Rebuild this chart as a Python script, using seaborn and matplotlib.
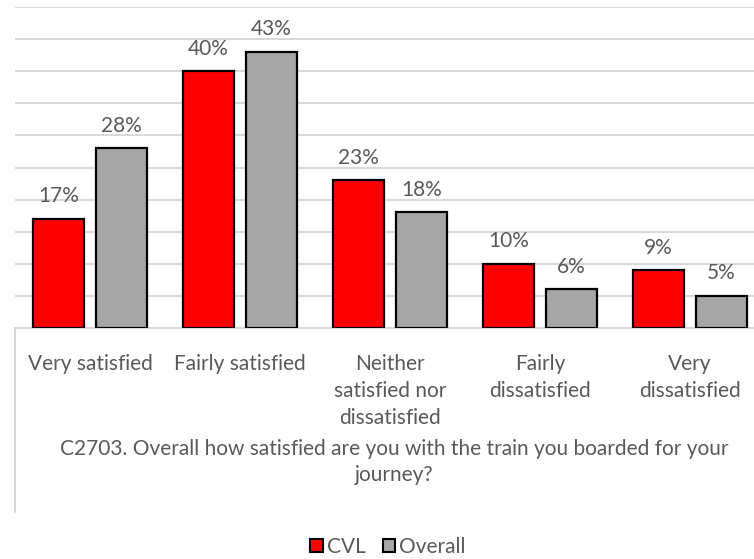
import matplotlib
matplotlib.use("Agg")
import matplotlib.pyplot as plt
import seaborn as sns
import pandas as pd
from matplotlib.lines import Line2D
from matplotlib.patches import Patch

categories = ["Very satisfied", "Fairly satisfied", "Neither\nsatisfied nor\ndissatisfied",
              "Fairly\ndissatisfied", "Very\ndissatisfied"]
series = ["CVL", "Overall"]
cvl = [17, 40, 23, 10, 9]
overall = [28, 43, 18, 6, 5]
y_ticks = [0, 5, 10, 15, 20, 25, 30, 35, 40, 45, 50]
question = "C2703. Overall how satisfied are you with the train you boarded for your\njourney?"
colors = {"CVL": "#FF0000", "Overall": "#A6A6A6"}
text_color = "#595959"

sns.set_theme(style="white")
plt.rcParams['font.family'] = ['Lato', 'DejaVu Sans']

W, H = 754, 559
fig = plt.figure(figsize=(W / 100, H / 100), dpi=100)
ax = fig.add_axes([15 / W, 1 - 328 / H, 750 / W, 321 / H])

df = pd.DataFrame({
    "category": categories * 2,
    "series": [series[0]] * len(cvl) + [series[1]] * len(overall),
    "value": cvl + overall,
})
sns.barplot(data=df, x="category", y="value", hue="series", hue_order=series,
            palette=colors, edgecolor="black", linewidth=1.6, width=0.84, gap=0.2,
            saturation=1, ax=ax, legend=False, errorbar=None, zorder=3)

for cont, vals in zip(ax.containers, [cvl, overall]):
    ax.bar_label(cont, labels=[f"{v}%" for v in vals], padding=9, fontsize=15, color=text_color)

ax.set_xlim(-0.5, 4.5)
ax.set_ylim(0, 50)
ax.set_yticks(y_ticks)
ax.set_yticklabels([])
ax.yaxis.grid(True, color="#D9D9D9", linewidth=1.5, zorder=0)
ax.set_axisbelow(True)
for s in ["top", "left", "right"]:
    ax.spines[s].set_visible(False)
ax.spines["bottom"].set_color("#D9D9D9")
ax.spines["bottom"].set_linewidth(1.5)
ax.tick_params(axis="both", length=0)
ax.tick_params(axis="x", pad=19, labelsize=15, labelcolor=text_color)
for lab in ax.get_xticklabels():
    lab.set_linespacing(1.42)
ax.set_xlabel("")
ax.set_ylabel("")

# category-axis frame line
fig.add_artist(Line2D([15 / W, 15 / W], [1 - 329 / H, 1 - 512 / H], color="#D9D9D9", linewidth=1.5))

fig.text(394 / W, 1 - 462 / H, question, ha="center", va="center", fontsize=15,
         color=text_color, linespacing=1.4)

handles = [Patch(facecolor=colors[s], edgecolor="black", linewidth=1.5, label=s) for s in series]
fig.legend(handles=handles, loc="center", bbox_to_anchor=(388 / W, 1 - 547 / H), ncol=2,
           frameon=False, fontsize=15, handlelength=0.6, handleheight=0.6,
           handletextpad=0.2, columnspacing=0.8, labelcolor=text_color)

fig.savefig("out.png", dpi=100, facecolor="white")
